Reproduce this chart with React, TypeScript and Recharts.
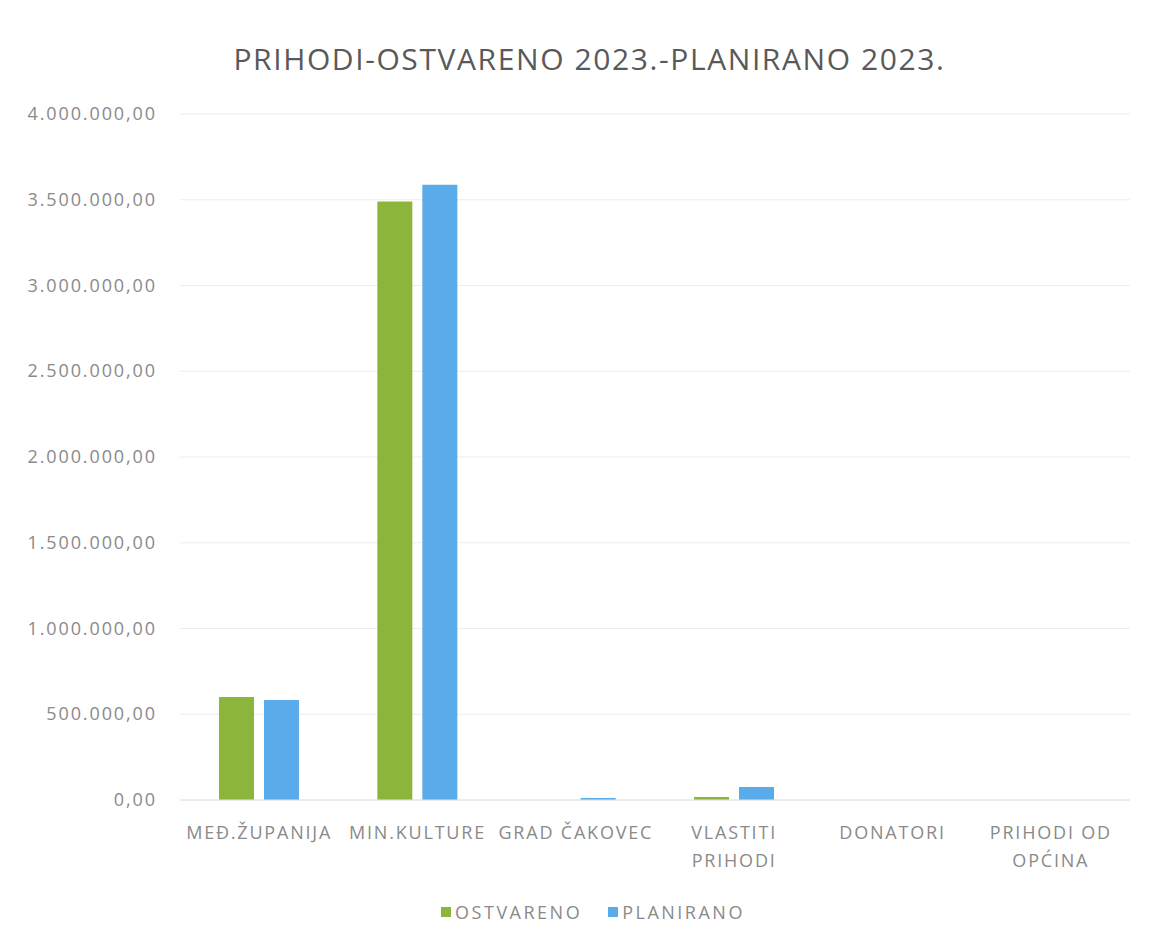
import React from "react";
import { Bar, BarChart, CartesianGrid, Legend, XAxis, YAxis } from "recharts";

const categories = [
  "MEĐ.ŽUPANIJA",
  "MIN.KULTURE",
  "GRAD ČAKOVEC",
  "VLASTITI PRIHODI",
  "DONATORI",
  "PRIHODI OD OPĆINA",
];
const ostvareno = [600000, 3490000, 0, 17000, 0, 0];
const planirano = [583000, 3588000, 12000, 76000, 0, 0];
const yTicks = [0, 500000, 1000000, 1500000, 2000000, 2500000, 3000000, 3500000, 4000000];

const GREEN = "#8cb53c";
const BLUE = "#5aabe9";
const TEXT = "#8a8a8a";
const FONT = "'Open Sans', sans-serif";

const data = categories.map((name, i) => ({
  name,
  ostvareno: ostvareno[i],
  planirano: planirano[i],
}));

const fmt = (v: number) =>
  v.toLocaleString("de-DE", { minimumFractionDigits: 2, maximumFractionDigits: 2 });

// wrap the long category labels the way the original does
const wrapLabel = (label: string): string[] => {
  if (label === "VLASTITI PRIHODI") return ["VLASTITI", "PRIHODI"];
  if (label === "PRIHODI OD OPĆINA") return ["PRIHODI OD", "OPĆINA"];
  return [label];
};

const CategoryTick = (props: any) => {
  const { x, y, payload } = props;
  const lines = wrapLabel(payload.value);
  return (
    <text
      x={x}
      y={y + 31}
      textAnchor="middle"
      fill={TEXT}
      fontSize={18}
      letterSpacing={1.8}
      fontFamily={FONT}
    >
      {lines.map((l, i) => (
        <tspan key={i} x={x} dy={i === 0 ? 0 : 28}>
          {l}
        </tspan>
      ))}
    </text>
  );
};

const ValueTick = (props: any) => {
  const { x, y, payload } = props;
  return (
    <text
      x={x}
      y={y + 6}
      textAnchor="end"
      fill={TEXT}
      fontSize={18}
      letterSpacing={1.9}
      fontFamily={FONT}
    >
      {fmt(payload.value)}
    </text>
  );
};

const LegendContent = () => (
  <div
    style={{
      display: "flex",
      justifyContent: "center",
      gap: 26,
      height: 24,
      paddingLeft: 56,
      boxSizing: "border-box",
      alignItems: "center",
      fontFamily: FONT,
      fontSize: 18,
      letterSpacing: 2.5,
      color: TEXT,
    }}
  >
    {[
      ["OSTVARENO", GREEN],
      ["PLANIRANO", BLUE],
    ].map(([label, color]) => (
      <span key={label} style={{ display: "flex", alignItems: "center", gap: 4 }}>
        <span style={{ width: 10, height: 10, background: color, display: "inline-block" }} />
        {label}
      </span>
    ))}
  </div>
);

export default function App() {
  return (
    <div
      style={{
        position: "absolute",
        left: 0,
        top: 0,
        width: 1149,
        height: 945,
        background: "#fff",
        fontFamily: FONT,
      }}
    >
      <div
        style={{
          position: "absolute",
          top: 38,
          left: 0,
          width: 1149,
          paddingLeft: 30,
          boxSizing: "border-box",
          textAlign: "center",
          fontSize: 30,
          letterSpacing: 1.6,
          color: "#595959",
        }}
      >
        PRIHODI-OSTVARENO 2023.-PLANIRANO 2023.
      </div>
      <BarChart
        width={1149}
        height={945}
        data={data}
        margin={{ top: 114, right: 19, left: 0, bottom: 21 }}
        barGap={10}
        barSize={35}
      >
        <CartesianGrid stroke="#ececec" vertical={false} />
        <XAxis
          dataKey="name"
          interval={0}
          height={100}
          tick={<CategoryTick />}
          tickLine={false}
          axisLine={{ stroke: "#e2e2e2" }}
        />
        <YAxis
          domain={[0, 4000000]}
          ticks={yTicks}
          width={180}
          tick={<ValueTick />}
          tickMargin={17}
          tickLine={false}
          axisLine={false}
        />
        <Legend verticalAlign="bottom" content={<LegendContent />} />
        <Bar dataKey="ostvareno" name="OSTVARENO" fill={GREEN} isAnimationActive={false} />
        <Bar dataKey="planirano" name="PLANIRANO" fill={BLUE} isAnimationActive={false} />
      </BarChart>
    </div>
  );
}
